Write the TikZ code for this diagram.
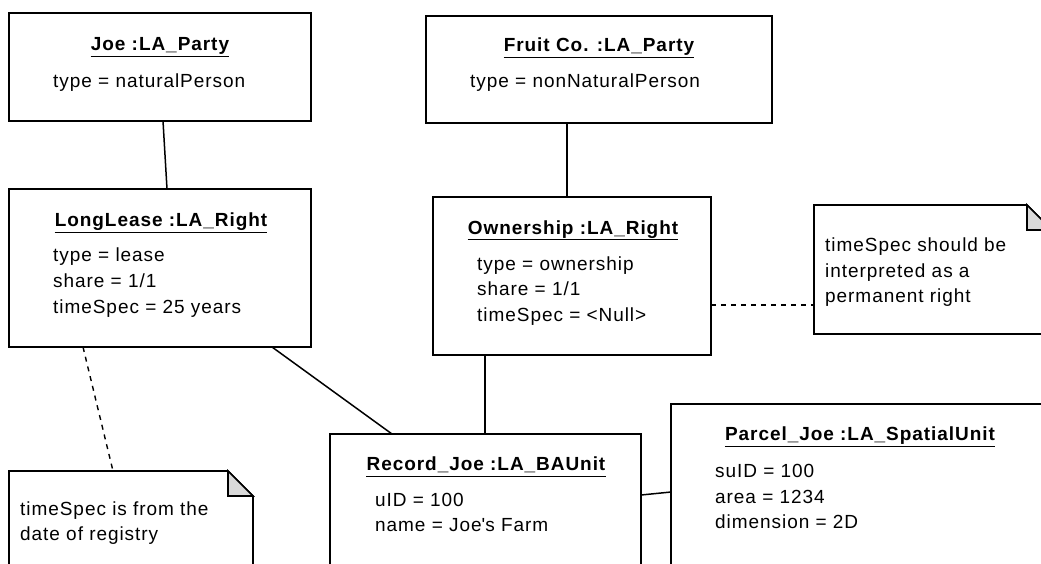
\documentclass[tikz,border=0pt]{standalone}
\usepackage{fontspec}
\setmainfont{Liberation Sans}[LetterSpace=5]
\begin{document}
\begin{tikzpicture}[x=1pt,y=-1pt,
  box/.style={draw, line width=1.6pt, anchor=north west, inner sep=0pt, outer sep=0pt},
  notearea/.style={anchor=north west, inner sep=0pt, outer sep=0pt},
  noteline/.style={draw, line width=1.6pt, fill=white, line join=miter},
  fold/.style={draw, line width=1.6pt, fill=black!15},
  objtitle/.style={anchor=base, inner sep=0pt, font=\bfseries\fontsize{19}{26}\selectfont},
  uline/.style={line width=1.3pt},
  attr/.style={anchor=north west, inner sep=0pt, align=left, yshift=18.2pt,
    font=\fontsize{19}{25.8}\selectfont},
  link/.style={line width=1.5pt},
  anchorlink/.style={line width=1.4pt, dash pattern=on 5pt off 5pt}]

\useasboundingbox (0,0) rectangle (1041,563);
\fill[white] (0,0) rectangle (1041,563);
\clip (0,0) rectangle (1041,563);

% object boxes
\node[box, minimum width=302pt, minimum height=108pt] (joe) at (9,13) {};
\node[box, minimum width=346pt, minimum height=107pt] (fruit) at (426,16) {};
\node[box, minimum width=302pt, minimum height=158pt] (lease) at (9,189) {};
\node[box, minimum width=278pt, minimum height=158pt] (own) at (433,197) {};
\node[box, minimum width=311pt, minimum height=200pt] (record) at (330,434) {};
\node[box, minimum width=378pt, minimum height=220pt] (parcel) at (671,404) {};

% note areas
\node[notearea, minimum width=238pt, minimum height=129pt] (n1) at (814,205) {};
\node[notearea, minimum width=244pt, minimum height=150pt] (n2) at (9,471) {};

% notes with folded corner
\foreach \n in {n1,n2}{
  \draw[noteline] (\n.north west) -- ([xshift=-25pt]\n.north east)
    -- ([yshift=-25pt]\n.north east) -- (\n.south east) -- (\n.south west) -- cycle;
  \draw[fold] ([xshift=-25pt]\n.north east) -- ([xshift=-25pt,yshift=-25pt]\n.north east)
    -- ([yshift=-25pt]\n.north east) -- cycle;
}

% titles (underlined)
\node[objtitle] (tjoe) at (160,50.7) {Joe :LA\_Party};
\node[objtitle] (tfruit) at (599,51.7) {Fruit Co. :LA\_Party};
\node[objtitle] (tlease) at (161,226.7) {LongLease :LA\_Right};
\node[objtitle] (town) at (573,234) {Ownership :LA\_Right};
\node[objtitle] (trecord) at (486,470.7) {Record\_Joe :LA\_BAUnit};
\node[objtitle] (tparcel) at (860,440.7) {Parcel\_Joe :LA\_SpatialUnit};
\foreach \t in {tjoe,tfruit,tlease,town,trecord,tparcel}{
  \draw[uline] ([yshift=-5.5pt]\t.base west) -- ([yshift=-5.5pt]\t.base east);
}

% attributes
\node[attr] (ajoe) at (53,87.3) {\strut type = naturalPerson};
\node[attr] (afruit) at (470,87.3) {\strut type = nonNaturalPerson};
\node[attr] (alease) at (53,261.7) {\strut type = lease\\share = 1/1\\timeSpec = 25 years};
\node[attr] (aown) at (477,270) {\strut type = ownership\\share = 1/1\\timeSpec = <Null>};
\node[attr] (arecord) at (375,506) {\strut uID = 100\\name = Joe\textquotesingle s Farm};
\node[attr] (aparcel) at (715,477.3) {\strut suID = 100\\area = 1234\\dimension = 2D};

% note texts
\node[attr, font=\fontsize{19}{25.5}\selectfont] (tn1) at (825,251.7)
  {\strut timeSpec should be\\interpreted as a\\permanent right};
\node[attr, font=\fontsize{19}{25.7}\selectfont] (tn2) at (20,515)
  {\strut timeSpec is from the\\date of registry};

% links
\draw[link] ([xshift=154pt]joe.south west) -- ([xshift=158pt]lease.north west);
\draw[link] ([xshift=141pt]fruit.south west) -- ([xshift=134pt]own.north west);
\draw[link] ([xshift=263pt]lease.south west) -- ([xshift=62pt]record.north west);
\draw[link] ([xshift=52pt]own.south west) -- ([xshift=155pt]record.north west);
\draw[link] ([yshift=-61pt]record.north east) -- ([yshift=-88pt]parcel.north west);

% note anchors
\draw[anchorlink] ([xshift=74pt]lease.south west) -- ([xshift=104pt]n2.north west);
\draw[anchorlink] ([yshift=-108pt]own.north east) -- ([yshift=-100pt]n1.north west);
\end{tikzpicture}
\end{document}
